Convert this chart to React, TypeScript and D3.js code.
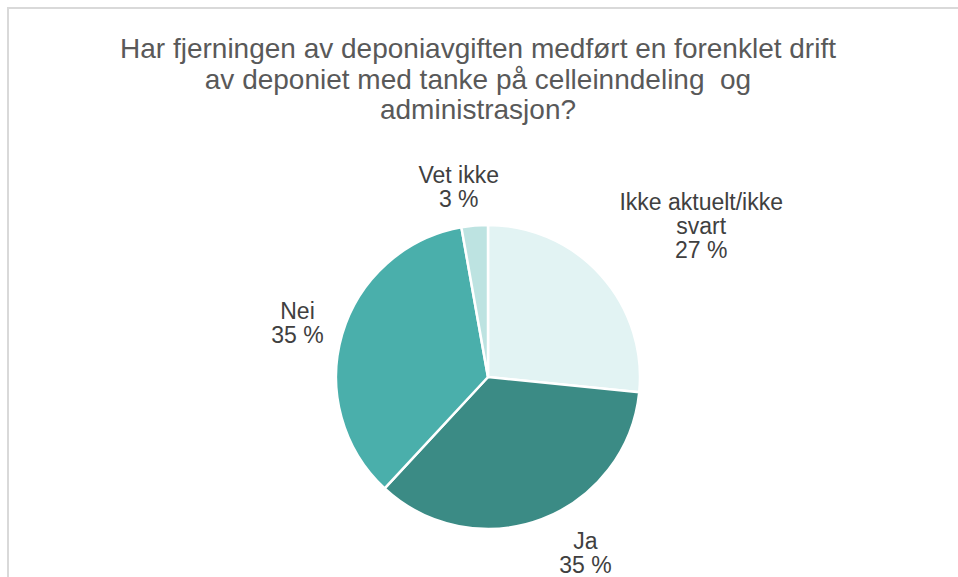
import React from "react";
import * as d3 from "d3";

const categories = ["Ikke aktuelt/ikke svart", "Ja", "Nei", "Vet ikke"];
const values = [26.6, 35.3, 35.3, 2.8];
const percentLabels = ["27 %", "35 %", "35 %", "3 %"];
const labelLines = [["Ikke aktuelt/ikke", "svart"], ["Ja"], ["Nei"], ["Vet ikke"]];
const colors = ["#e2f3f3", "#3b8b85", "#4aafab", "#bde3e1"];
const titleLines = [
  "Har fjerningen av deponiavgiften medført en forenklet drift",
  "av deponiet med tanke på celleinndeling  og",
  "administrasjon?",
];

const W = 958;
const H = 577;
const CX = 488;
const CY = 377;
const R = 152;
const LABEL_R = 185;
const labelNudge: Record<string, [number, number]> = {
  "Ikke aktuelt/ikke svart": [76, -27],
  Ja: [32, 3],
  Nei: [-13, -2],
  "Vet ikke": [-13, -6],
};

export default function App() {
  const data = categories.map((c, i) => ({ c, v: values[i], i }));
  const pie = d3.pie<any>().value((d) => d.v).sort(null);
  const arcs = pie(data);
  const arc = d3.arc<any>().innerRadius(0).outerRadius(R);
  const labelArc = d3.arc<any>().innerRadius(LABEL_R).outerRadius(LABEL_R);
  const font = "'Liberation Sans', Arial, sans-serif";
  const lh = 24.2;
  return (
    <svg
      width={W}
      height={H}
      style={{ position: "absolute", left: 0, top: 0, display: "block", background: "#fff" }}
    >
      <rect x={8} y={8} width={1000} height={700} fill="#fff" stroke="#d9d9d9" strokeWidth={2} />
      <g fontFamily={font} fontSize={28} fill="#595959" textAnchor="middle">
        {titleLines.map((t, i) => (
          <text key={i} x={478} y={58 + i * 30.5} xmlSpace="preserve" style={{ whiteSpace: "pre" }}>
            {t}
          </text>
        ))}
      </g>
      <g transform={`translate(${CX},${CY})`}>
        {arcs.map((a, i) => (
          <path key={i} d={arc(a) as string} fill={colors[i]} stroke="#fff" strokeWidth={2.5} strokeLinejoin="round" />
        ))}
      </g>
      <g fontFamily={font} fontSize={23} fill="#404040" textAnchor="middle">
        {arcs.map((a, i) => {
          const [lx, ly] = labelArc.centroid(a);
          const [nx, ny] = labelNudge[categories[i]];
          const x = CX + lx + nx;
          const cy = CY + ly + ny;
          const lines = [...labelLines[i], percentLabels[i]];
          const n = lines.length;
          return lines.map((t, j) => (
            <text key={`${i}-${j}`} x={x} y={cy + (j - (n - 1) / 2) * lh + 8}>
              {t}
            </text>
          ));
        })}
      </g>
    </svg>
  );
}
